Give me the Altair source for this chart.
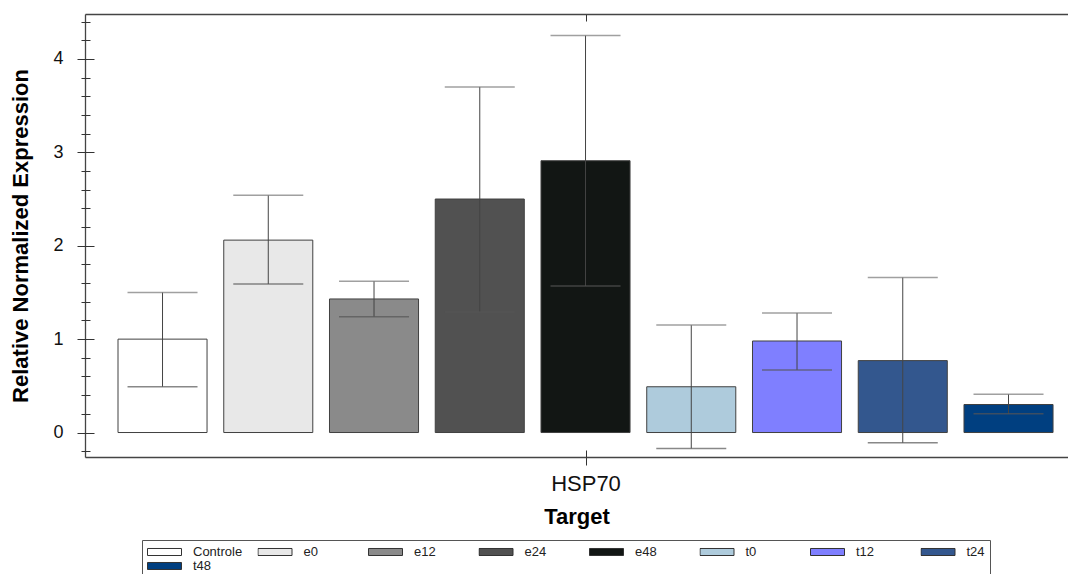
import altair as alt
import pandas as pd

samples = ["Controle", "e0", "e12", "e24", "e48", "t0", "t12", "t24", "t48"]
values = [1.00, 2.06, 1.43, 2.50, 2.91, 0.49, 0.98, 0.77, 0.30]
upper = [1.50, 2.54, 1.62, 3.70, 4.25, 1.15, 1.28, 1.66, 0.41]
lower = [0.49, 1.59, 1.24, 1.29, 1.57, -0.17, 0.67, -0.11, 0.20]
colors = ["#ffffff", "#e8e8e8", "#8a8a8a", "#515151", "#121614",
          "#aecbdc", "#7f7fff", "#33578e", "#003f80"]
target = "HSP70"
major_ticks = [0, 1, 2, 3, 4]
minor_ticks = [round(-0.2 + 0.2 * i, 1) for i in range(24)]

df = pd.DataFrame({"Target": target, "Sample": samples, "value": values,
                   "upper": upper, "lower": lower})

FONT = "Liberation Sans"
W, H = 983, 443
ydom = [-0.262, 4.481]
FRAME = "#444"

xscale = alt.Scale(paddingInner=0, paddingOuter=0, round=False)
xoff_scale = alt.Scale(domain=samples, paddingInner=0.158, paddingOuter=0.2268,
                       align=0.688, round=False)
yscale = alt.Scale(domain=ydom, nice=False, zero=False)

sym_path = "M-1,-0.206H1V0.206H-1Z"

base = alt.Chart(df)

bars = base.mark_bar(stroke="#404040", strokeWidth=1).encode(
    x=alt.X("Target:N", scale=xscale,
            axis=alt.Axis(orient="bottom", title="Target", labelAngle=0, grid=False,
                          tickSize=8, tickColor="#333", domain=True,
                          domainColor=FRAME, domainWidth=1.3,
                          labelFontSize=22, labelFont=FONT, labelColor="#111",
                          labelPadding=8, tickOffset=9,
                          titleFontSize=22, titleFont=FONT, titleFontWeight="bold",
                          titleColor="#000", titlePadding=12)),
    xOffset=alt.XOffset("Sample:N", scale=xoff_scale, sort=samples),
    y=alt.Y("value:Q", scale=yscale,
            axis=alt.Axis(orient="left", values=major_ticks, tickSize=8, grid=False,
                          tickColor="#333", domain=True,
                          domainColor=FRAME, domainWidth=1.3,
                          title="Relative Normalized Expression",
                          labelFontSize=18, labelFont=FONT, labelColor="#111",
                          labelPadding=14,
                          titleFontSize=22, titleFont=FONT, titleFontWeight="bold",
                          titleColor="#000", titlePadding=20)),
    color=alt.Color("Sample:N", sort=samples,
                    scale=alt.Scale(domain=samples, range=colors),
                    legend=alt.Legend(
                        orient="none", legendX=57, legendY=526,
                        direction="horizontal", columns=8, title=None,
                        symbolType=sym_path, symbolSize=1156,
                        symbolStrokeColor="#333", symbolStrokeWidth=1,
                        symbolOpacity=1,
                        labelFont=FONT, labelFontSize=13, labelColor="#222",
                        labelOffset=11, columnPadding=14.5, rowPadding=0,
                        clipHeight=14, gridAlign="all",
                        strokeColor="#555", fillColor="#ffffff", padding=5)),
)

rules = base.mark_rule(color="#444", strokeWidth=1).encode(
    x=alt.X("Target:N", scale=xscale,
            axis=alt.Axis(orient="bottom", offset=-7, tickSize=7, tickOffset=9, grid=False,
                          tickColor="#333", labels=False, domain=False, title=None)),
    xOffset=alt.XOffset("Sample:N", scale=xoff_scale, sort=samples),
    y=alt.Y("lower:Q", scale=yscale,
            axis=alt.Axis(orient="left", values=major_ticks, offset=-9, tickSize=9, grid=False,
                          tickColor="#333", labels=False, domain=False, title=None)),
    y2="upper:Q",
)

caps_up = base.mark_tick(color="#777", thickness=1.5, size=70).encode(
    x=alt.X("Target:N", scale=xscale,
            axis=alt.Axis(orient="top", offset=-7, tickSize=7, tickOffset=9, grid=False,
                          tickColor="#333", labels=False, domain=False, title=None)),
    xOffset=alt.XOffset("Sample:N", scale=xoff_scale, sort=samples),
    y=alt.Y("upper:Q", scale=yscale,
            axis=alt.Axis(orient="left", values=minor_ticks, tickSize=4, grid=False,
                          tickColor="#333", labels=False, domain=False, title=None)),
)

caps_low = base.mark_tick(color="#555", thickness=1.5, size=70).encode(
    x=alt.X("Target:N", scale=xscale,
            axis=alt.Axis(orient="top", ticks=False, labels=False, grid=False,
                          domain=True, domainColor=FRAME, domainWidth=1.3, title=None)),
    xOffset=alt.XOffset("Sample:N", scale=xoff_scale, sort=samples),
    y=alt.Y("lower:Q", scale=yscale,
            axis=alt.Axis(orient="left", values=minor_ticks, offset=-5, tickSize=5, grid=False,
                          tickColor="#333", labels=False, domain=False, title=None)),
)

chart = alt.layer(bars, rules, caps_up, caps_low).resolve_axis(
    x="independent", y="independent"
).properties(
    width=W, height=H,
    padding={"left": 1, "top": 5, "right": 0, "bottom": 0},
).configure_view(
    stroke=None
).configure(background="white")

chart.save("out.html", embed_options={"renderer": "svg", "actions": False})
